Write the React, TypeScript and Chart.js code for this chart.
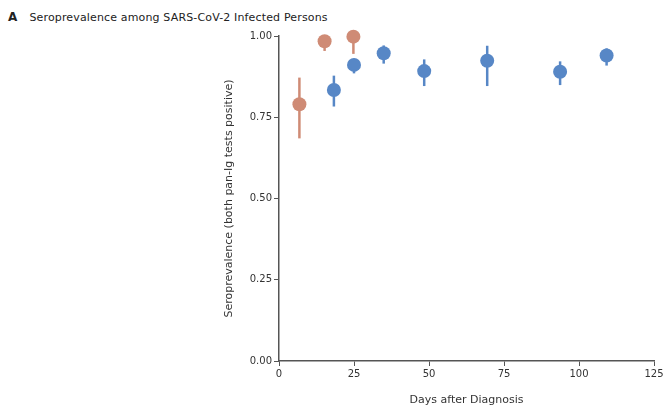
import React, { useEffect, useRef } from "react";
import { Chart, registerables } from "chart.js";

Chart.register(...registerables);

// Orange series (early time points)
const orangeDays = [6.8, 15.2, 24.8];
const orangeValues = [0.79, 0.984, 0.998];
const orangeLower = [0.685, 0.954, 0.945];
const orangeUpper = [0.872, 0.998, 1.0];

// Blue series
const blueDays = [18.3, 25, 34.9, 48.4, 69.4, 93.7, 109.2];
const blueValues = [0.834, 0.911, 0.947, 0.892, 0.924, 0.89, 0.94];
const blueLower = [0.783, 0.885, 0.915, 0.846, 0.846, 0.849, 0.909];
const blueUpper = [0.878, 0.93, 0.971, 0.928, 0.97, 0.922, 0.962];

const xTicks = [0, 25, 50, 75, 100, 125];
const yTicks = [0, 0.25, 0.5, 0.75, 1.0];

const ORANGE = "#CF8B75";
const BLUE = "#5787C6";
const AXIS = "#555555";
const FONT = "'DejaVu Sans', sans-serif";

const errorBarPlugin = {
  id: "errorBars",
  beforeDatasetsDraw(chart: any) {
    const ctx = chart.ctx;
    const xs = chart.scales.x;
    const ys = chart.scales.y;
    chart.data.datasets.forEach((ds: any) => {
      const lo = ds.errLow as number[];
      const hi = ds.errHigh as number[];
      ctx.save();
      ctx.strokeStyle = ds.backgroundColor;
      ctx.lineWidth = 2.5;
      ds.data.forEach((p: any, i: number) => {
        const x = xs.getPixelForValue(p.x);
        ctx.beginPath();
        ctx.moveTo(x, ys.getPixelForValue(lo[i]));
        ctx.lineTo(x, ys.getPixelForValue(hi[i]));
        ctx.stroke();
      });
      ctx.restore();
    });
  },
};

export default function App() {
  const ref = useRef<HTMLCanvasElement | null>(null);
  useEffect(() => {
    const prevMargin = document.body.style.margin;
    document.body.style.margin = "0";
    const chart = new Chart(ref.current as HTMLCanvasElement, {
      type: "scatter",
      data: {
        datasets: [
          {
            label: "Group 1",
            data: orangeDays.map((d, i) => ({ x: d, y: orangeValues[i] })),
            backgroundColor: ORANGE,
            borderColor: ORANGE,
            pointRadius: 7,
            pointHoverRadius: 7,
            borderWidth: 0,
            clip: false,
            errLow: orangeLower,
            errHigh: orangeUpper,
          } as any,
          {
            label: "Group 2",
            data: blueDays.map((d, i) => ({ x: d, y: blueValues[i] })),
            backgroundColor: BLUE,
            borderColor: BLUE,
            pointRadius: 7,
            pointHoverRadius: 7,
            borderWidth: 0,
            clip: false,
            errLow: blueLower,
            errHigh: blueUpper,
          } as any,
        ],
      },
      options: {
        animation: false,
        responsive: false,
        maintainAspectRatio: false,
        layout: { padding: { left: 219, right: 9, top: 36, bottom: 0 } },
        plugins: {
          legend: { display: false },
          tooltip: { enabled: false },
        },
        scales: {
          x: {
            type: "linear",
            min: 0,
            max: 125,
            afterBuildTicks: (s: any) => {
              s.ticks = xTicks.map((v) => ({ value: v }));
            },
            afterFit: (s: any) => {
              s.height = 46;
              s.paddingLeft = 0;
              s.paddingRight = 0;
            },
            grid: {
              display: true,
              drawOnChartArea: false,
              drawTicks: true,
              tickLength: 5,
              color: AXIS,
            },
            border: { display: true, color: AXIS, width: 1.5 },
            ticks: {
              color: "#333",
              font: { family: FONT, size: 10 },
              padding: 2,
              maxRotation: 0,
            },
            title: {
              display: true,
              text: "Days after Diagnosis",
              color: "#333",
              font: { family: FONT, size: 11 },
              padding: { top: 4, bottom: 0 },
            },
          },
          y: {
            type: "linear",
            min: 0,
            max: 1,
            afterBuildTicks: (s: any) => {
              s.ticks = yTicks.map((v) => ({ value: v }));
            },
            afterFit: (s: any) => {
              s.width = 60;
              s.paddingTop = 0;
              s.paddingBottom = 0;
            },
            grid: {
              display: true,
              drawOnChartArea: false,
              drawTicks: true,
              tickLength: 5,
              color: AXIS,
            },
            border: { display: true, color: AXIS, width: 1.5 },
            ticks: {
              color: "#333",
              font: { family: FONT, size: 10 },
              padding: 2,
              callback: (v: any) => Number(v).toFixed(2),
            },
            title: {
              display: true,
              text: "Seroprevalence (both pan-Ig tests positive)",
              color: "#333",
              font: { family: FONT, size: 11 },
              padding: { top: 4, bottom: 0 },
            },
          },
        },
      } as any,
      plugins: [errorBarPlugin],
    });
    return () => {
      chart.destroy();
      document.body.style.margin = prevMargin;
    };
  }, []);

  return (
    <div style={{ position: "relative", width: 663, height: 407, background: "#fff" }}>
      <div
        style={{
          position: "absolute",
          left: 8,
          top: 10,
          fontFamily: FONT,
          fontSize: 11,
          letterSpacing: "0.15px",
          color: "#222",
          whiteSpace: "nowrap",
        }}
      >
        <span style={{ fontWeight: "bold", fontSize: 12, marginRight: 12 }}>A</span>
        Seroprevalence among SARS-CoV-2 Infected Persons
      </div>
      <canvas ref={ref} width={663} height={407} style={{ position: "absolute", left: 0, top: 0 }} />
    </div>
  );
}
